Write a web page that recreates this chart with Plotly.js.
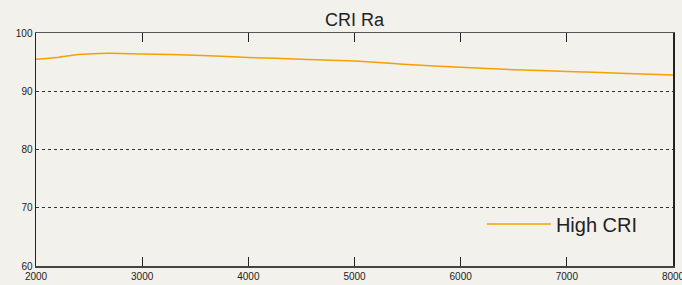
<!DOCTYPE html>
<html><head><meta charset="utf-8">
<script src="https://cdn.plot.ly/plotly-3.0.1.min.js"></script>
<style>html,body{margin:0;padding:0;background:#f2f1ec;}#chart{width:682px;height:285px;}</style>
</head><body><div id="chart"></div>
<script>
const cct = [2000, 2200, 2400, 2600, 2800, 3000, 3500, 4000, 4500, 5000, 5500, 6000, 6500, 7000, 7500, 8000];
const highCRI = [95.5, 95.8, 96.3, 96.5, 96.5, 96.4, 96.2, 95.8, 95.5, 95.2, 94.6, 94.1, 93.7, 93.4, 93.1, 92.8];
const xTicks = [2000, 3000, 4000, 5000, 6000, 7000, 8000];
const yTicks = [60, 70, 80, 90, 100];

const font = 'Liberation Sans, Arial, Helvetica, sans-serif';
Plotly.newPlot('chart', [{
  x: cct, y: highCRI, type: 'scatter', mode: 'lines', name: 'High CRI',
  line: {color: '#f5a000', width: 1.5, shape: 'spline', smoothing: 0.8}
}, {
  x: [null], y: [null], xaxis: 'x2', type: 'scatter', mode: 'lines', showlegend: false, hoverinfo: 'skip'
}], {
  width: 682, height: 285,
  margin: {l: 36, r: 9, t: 33, b: 19},
  paper_bgcolor: '#f2f1ec', plot_bgcolor: 'rgba(0,0,0,0)',
  title: {text: 'CRI Ra', font: {family: font, size: 18, color: '#222'}, xref: 'paper', x: 0.5, xanchor: 'center', y: 0.93, yanchor: 'middle'},
  xaxis: {range: [2000, 8000], tickvals: xTicks, ticktext: xTicks.map(String),
    ticks: 'inside', ticklen: 9, tickcolor: '#222', tickwidth: 1.2, showgrid: false, zeroline: false,
    showline: true, linecolor: '#444', linewidth: 1.5, ticklabeloverflow: 'allow',
    tickfont: {family: font, size: 10, color: '#222'}},
  xaxis2: {overlaying: 'x', side: 'top', range: [2000, 8000], tickvals: xTicks,
    ticks: 'inside', ticklen: 9, tickcolor: '#222', tickwidth: 1.2, showgrid: false, zeroline: false,
    showline: true, linecolor: '#555', linewidth: 1.5, showticklabels: false},
  yaxis: {range: [60, 100], tickvals: yTicks, ticktext: yTicks.map(String),
    ticks: '', showgrid: true, gridcolor: '#333', griddash: '3px,3px', gridwidth: 1,
    zeroline: false, showline: true, linecolor: '#222', linewidth: 1.5, mirror: true,
    tickfont: {family: font, size: 10, color: '#222'}},
  showlegend: true,
  legend: {x: 0.7, y: 0.18, xanchor: 'left', yanchor: 'middle', bgcolor: 'rgba(0,0,0,0)',
    font: {family: font, size: 20, color: '#222'}, itemwidth: 64}
}, {staticPlot: true});
</script></body></html>
